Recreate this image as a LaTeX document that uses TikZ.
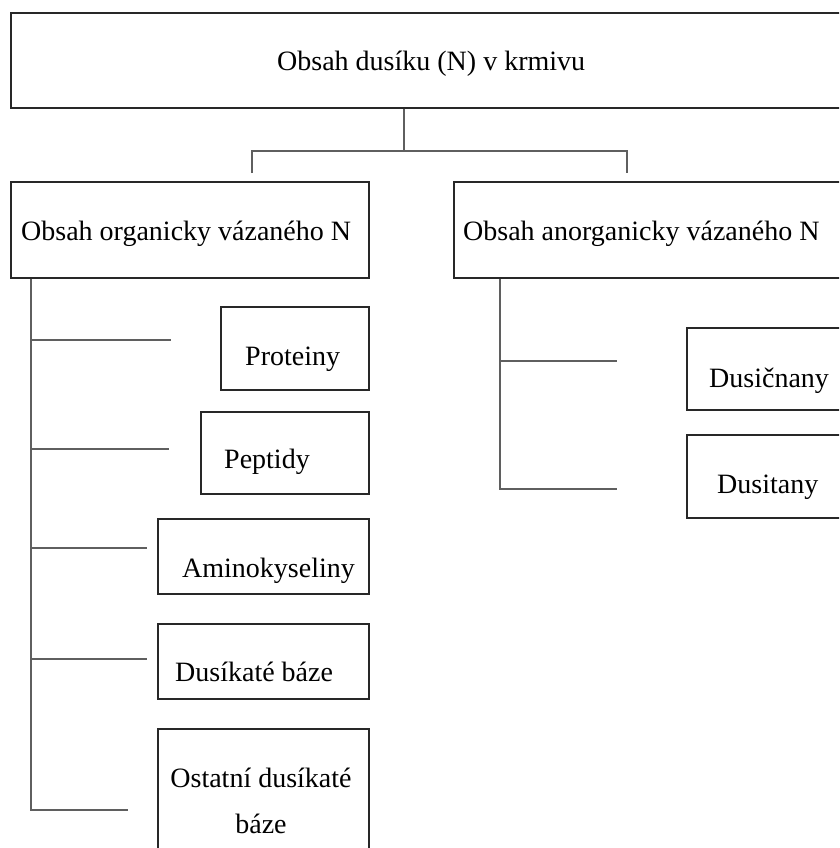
\documentclass[tikz,border=0pt]{standalone}
\usepackage{fontspec}
\setmainfont{Liberation Serif}
\usepackage{tikz}
\usetikzlibrary{positioning, calc}
\definecolor{boxLine}{RGB}{40, 40, 40}
\definecolor{linkGray}{RGB}{95, 95, 95}
\tikzset{
  boxNode/.style={
    draw=boxLine,
    line width=1.6pt,
    rectangle,
    anchor=north west,
    inner sep=0pt
  },
  boxText/.style={
    anchor=base west,
    inner sep=0pt,
    font=\fontsize{28}{46}\selectfont
  },
  linkLine/.style={
    draw=linkGray,
    line width=1.6pt
  }
}
\begin{document}
\begin{tikzpicture}[x=1pt, y=-1pt]
  \clip (0,0) rectangle (839,848);
  % Root
  \node[boxNode, minimum width=835pt, minimum height=95pt] (root) at (10,12) {};
  \node[boxText] (rootTxt) at (277,71) {Obsah dusíku (N) v krmivu};
  % Second level
  \node[boxNode, minimum width=358pt, minimum height=96pt] (org) at (10,181) {};
  \node[boxText] (orgTxt) at (21,240) {Obsah organicky vázaného N};
  \node[boxNode, minimum width=392pt, minimum height=96pt] (anorg) at (453,181) {};
  \node[boxText] (anorgTxt) at (463,240) {Obsah anorganicky vázaného N};
  % Bracket under the root
  \coordinate (fork) at (404,151);
  \coordinate (legL) at (252,173);
  \coordinate (legR) at (627,173);
  \draw[linkLine] (root.south -| fork) -- (fork);
  \draw[linkLine] (legL) |- (fork) -| (legR);
  % Organic branch
  \node[boxNode, minimum width=148pt, minimum height=83pt] (prot) at (220,306) {};
  \node[boxText] (protTxt) at (245,365) {Proteiny};
  \node[boxNode, minimum width=168pt, minimum height=82pt] (pept) at (200,411) {};
  \node[boxText] (peptTxt) at (224,468) {Peptidy};
  \node[boxNode, minimum width=211pt, minimum height=75pt] (amino) at (157,518) {};
  \node[boxText] (aminoTxt) at (182,577) {Aminokyseliny};
  \node[boxNode, minimum width=211pt, minimum height=75pt] (baze) at (157,623) {};
  \node[boxText] (bazeTxt) at (175,681) {Dusíkaté báze};
  \node[boxNode, minimum width=211pt, minimum height=132pt] (ostat) at (157,728) {};
  \node[boxText, anchor=base, align=center] (ostatTxt) at (261,833) {Ostatní dusíkaté\\báze};
  \coordinate (tkL) at (31,277);
  \coordinate (eProt) at (171,340);
  \coordinate (ePept) at (169,449);
  \coordinate (eAmino) at (147,548);
  \coordinate (eBaze) at (147,659);
  \coordinate (eOstat) at (128,810);
  \draw[linkLine] (org.south -| tkL) |- (eOstat);
  \draw[linkLine] (tkL |- eProt) -- (eProt);
  \draw[linkLine] (tkL |- ePept) -- (ePept);
  \draw[linkLine] (tkL |- eAmino) -- (eAmino);
  \draw[linkLine] (tkL |- eBaze) -- (eBaze);
  % Inorganic branch
  \node[boxNode, minimum width=159pt, minimum height=82pt] (dusic) at (686,327) {};
  \node[boxText] (dusicTxt) at (709,387) {Dusičnany};
  \node[boxNode, minimum width=159pt, minimum height=83pt] (dusit) at (686,434) {};
  \node[boxText] (dusitTxt) at (717,493) {Dusitany};
  \coordinate (tkR) at (500,277);
  \coordinate (eDusic) at (617,361);
  \coordinate (eDusit) at (617,489);
  \draw[linkLine] (anorg.south -| tkR) |- (eDusit);
  \draw[linkLine] (tkR |- eDusic) -- (eDusic);
\end{tikzpicture}
\end{document}
